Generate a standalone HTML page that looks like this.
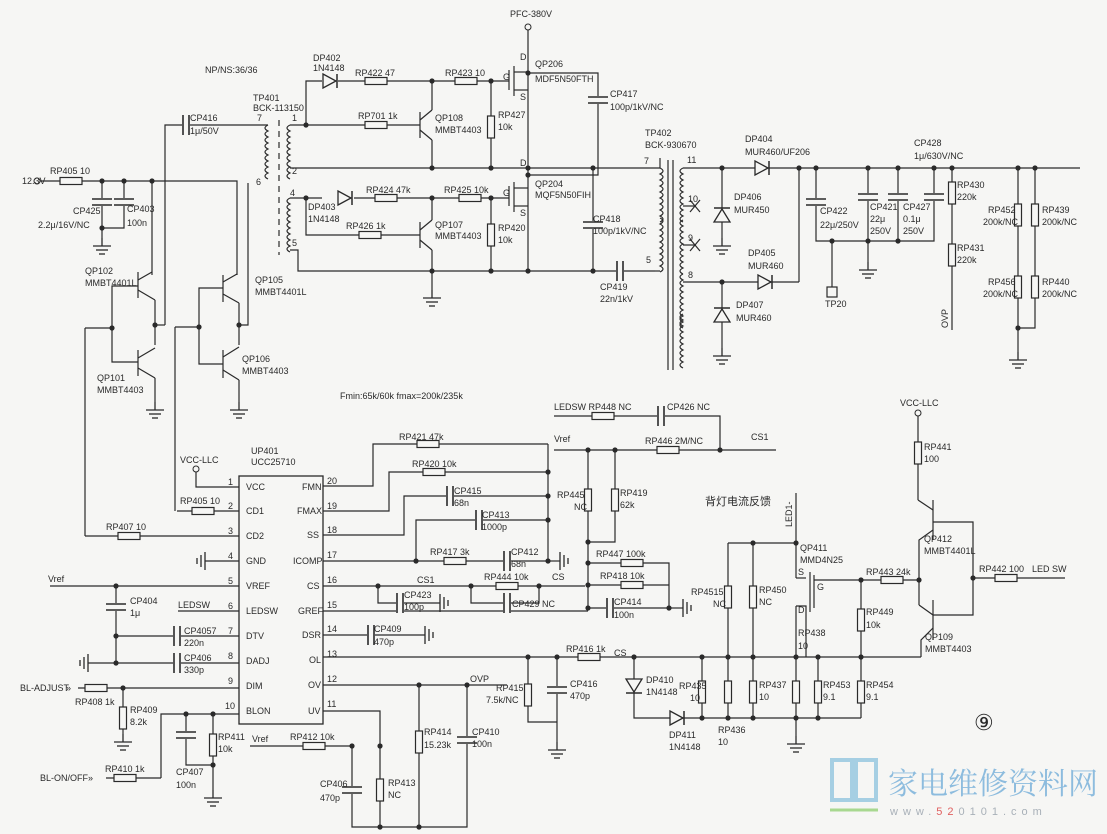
<!DOCTYPE html>
<html><head><meta charset="utf-8"><style>
html,body{margin:0;padding:0;background:#f6f6f4;}
svg{display:block;}
text{font-family:"Liberation Sans","Noto Sans CJK SC",sans-serif;font-size:9px;fill:#2a2a2a;}
</style></head><body>
<svg width="1107" height="834" viewBox="0 0 1107 834" xmlns="http://www.w3.org/2000/svg">
<defs>
<g id="rh"><rect x="-11" y="-3.5" width="22" height="7" fill="#f6f6f4" stroke="#2a2a2a" stroke-width="1.2"/></g>
<g id="rv"><rect x="-3.5" y="-11" width="7" height="22" fill="#f6f6f4" stroke="#2a2a2a" stroke-width="1.2"/></g>
<g id="gnd" stroke="#2a2a2a" stroke-width="1.3"><line x1="0" y1="-8" x2="0" y2="0"/><line x1="-9" y1="0" x2="9" y2="0"/><line x1="-6" y1="4" x2="6" y2="4"/><line x1="-3" y1="8" x2="3" y2="8"/></g>
<g id="gndl" stroke="#2a2a2a" stroke-width="1.3"><line x1="0" y1="-9" x2="0" y2="9"/><line x1="-4" y1="-6" x2="-4" y2="6"/><line x1="-8" y1="-3" x2="-8" y2="3"/></g>
<g id="gndr" stroke="#2a2a2a" stroke-width="1.3"><line x1="0" y1="-9" x2="0" y2="9"/><line x1="4" y1="-6" x2="4" y2="6"/><line x1="8" y1="-3" x2="8" y2="3"/></g>
<g id="cv" stroke="#2a2a2a" stroke-width="1.6"><rect x="-10" y="-4" width="20" height="8" fill="#f6f6f4" stroke="none"/><line x1="-10" y1="-3" x2="10" y2="-3"/><line x1="-10" y1="3" x2="10" y2="3"/></g>
<g id="ch" stroke="#2a2a2a" stroke-width="1.6"><rect x="-4" y="-10" width="8" height="20" fill="#f6f6f4" stroke="none"/><line x1="-3" y1="-10" x2="-3" y2="10"/><line x1="3" y1="-10" x2="3" y2="10"/></g>
<g id="dot"><circle r="2.6" fill="#2a2a2a"/></g>
<g id="dr"><polygon points="-7,-7 -7,7 6,0" fill="#f6f6f4" stroke="#2a2a2a" stroke-width="1.3"/><line x1="7" y1="-7" x2="7" y2="7" stroke="#2a2a2a" stroke-width="1.5"/></g>
<g id="du"><polygon points="-8,7 8,7 0,-6" fill="#f6f6f4" stroke="#2a2a2a" stroke-width="1.3"/><line x1="-8" y1="-7" x2="8" y2="-7" stroke="#2a2a2a" stroke-width="1.5"/></g>
<g id="dd"><polygon points="-8,-7 8,-7 0,6" fill="#f6f6f4" stroke="#2a2a2a" stroke-width="1.3"/><line x1="-8" y1="7" x2="8" y2="7" stroke="#2a2a2a" stroke-width="1.5"/></g>
<g id="coil" fill="none" stroke="#2a2a2a" stroke-width="1.2"><path d="M0,0 q6,3 0,6 q6,3 0,6 q6,3 0,6 q6,3 0,6 q6,3 0,6 q6,3 0,6 q6,3 0,6 q6,3 0,6 q6,3 0,6"/></g>
<g id="coilL" fill="none" stroke="#2a2a2a" stroke-width="1.2"><path d="M0,0 q-6,3 0,6 q-6,3 0,6 q-6,3 0,6 q-6,3 0,6 q-6,3 0,6 q-6,3 0,6 q-6,3 0,6 q-6,3 0,6 q-6,3 0,6"/></g>
</defs>

<g stroke="#2a2a2a" stroke-width="1.2" fill="none">
<!-- ===== top left ===== -->
<polyline points="40,181 237,181 237,275"/>
<line x1="102" y1="181" x2="102" y2="198"/><line x1="124" y1="181" x2="124" y2="198"/>
<polyline points="102,206 102,228 124,228 124,206"/><line x1="102" y1="228" x2="102" y2="238"/>
<line x1="152" y1="181" x2="152" y2="275"/>
<polyline points="165,325 165,125 268,125"/>
<polyline points="155,325 165,325"/>
<polyline points="248,183 248,325 239,325"/>
<!-- QP102 -->
<line x1="138" y1="272" x2="138" y2="298"/><line x1="138" y1="280" x2="152" y2="272"/><line x1="138" y1="290" x2="155" y2="300"/><line x1="155" y1="300" x2="155" y2="345"/>
<polyline points="138,286 112,286 112,362 138,362"/>
<line x1="112" y1="328" x2="85" y2="328"/><line x1="85" y1="328" x2="85" y2="536"/>
<!-- QP101 -->
<line x1="138" y1="350" x2="138" y2="376"/><line x1="138" y1="358" x2="155" y2="348"/><line x1="138" y1="368" x2="155" y2="378"/><line x1="155" y1="378" x2="155" y2="402"/>
<!-- QP105 -->
<line x1="223" y1="275" x2="223" y2="302"/><line x1="223" y1="282" x2="237" y2="274"/><line x1="223" y1="294" x2="239" y2="303"/><line x1="239" y1="303" x2="239" y2="345"/>
<polyline points="223,288 199,288 199,364 223,364"/>
<line x1="199" y1="327" x2="175" y2="327"/><line x1="175" y1="327" x2="175" y2="511"/>
<!-- QP106 -->
<line x1="223" y1="350" x2="223" y2="378"/><line x1="223" y1="357" x2="239" y2="347"/><line x1="223" y1="370" x2="239" y2="380"/><line x1="239" y1="380" x2="239" y2="402"/>
<!-- TP401 -->
<line x1="279" y1="120" x2="279" y2="255" stroke-dasharray="6,5"/>
<!-- upper driver -->
<polyline points="290,125 306,125 306,81 322,81"/>
<line x1="338" y1="81" x2="509" y2="81"/>
<line x1="306" y1="125" x2="420" y2="125"/>
<line x1="420" y1="112" x2="420" y2="138"/><line x1="420" y1="120" x2="432" y2="110"/><line x1="432" y1="110" x2="432" y2="81"/><line x1="420" y1="130" x2="432" y2="140"/><line x1="432" y1="140" x2="432" y2="168"/>
<line x1="491" y1="81" x2="491" y2="168"/>
<polyline points="290,168 660,168"/>
<polyline points="528,30 528,73 598,73 598,175 528,175"/>
<line x1="528" y1="73" x2="528" y2="168"/>
<line x1="509" y1="70" x2="509" y2="90"/><line x1="514" y1="66" x2="514" y2="96"/>
<line x1="514" y1="72" x2="528" y2="72"/><line x1="514" y1="90" x2="528" y2="90"/>
<!-- lower driver -->
<polyline points="290,198 322,198"/><line x1="354" y1="198" x2="509" y2="198"/>
<polyline points="306,198 306,235 420,235"/>
<line x1="420" y1="222" x2="420" y2="248"/><line x1="420" y1="230" x2="432" y2="220"/><line x1="432" y1="220" x2="432" y2="198"/><line x1="420" y1="240" x2="432" y2="250"/><line x1="432" y1="250" x2="432" y2="290"/>
<line x1="491" y1="198" x2="491" y2="271"/>
<polyline points="290,250 298,250 298,271 655,271"/>
<line x1="528" y1="168" x2="528" y2="271"/>
<line x1="509" y1="186" x2="509" y2="206"/><line x1="514" y1="182" x2="514" y2="212"/>
<line x1="514" y1="188" x2="528" y2="188"/><line x1="514" y1="206" x2="528" y2="206"/>
<line x1="593" y1="168" x2="593" y2="271"/>
<polyline points="655,271 660,271"/>
<polyline points="660,158 660,168"/>
<!-- TP402 -->
<line x1="668" y1="160" x2="668" y2="370"/><line x1="673" y1="160" x2="673" y2="370"/>
<polyline points="683,168 1080,168"/>
<line x1="722" y1="168" x2="722" y2="238"/>
<line x1="799" y1="168" x2="799" y2="282"/>
<polyline points="683,282 799,282"/>
<line x1="722" y1="282" x2="722" y2="348"/>
<line x1="683" y1="206" x2="696" y2="206"/><line x1="690" y1="200" x2="700" y2="212"/><line x1="690" y1="212" x2="700" y2="200"/>
<line x1="683" y1="245" x2="696" y2="245"/><line x1="690" y1="239" x2="700" y2="251"/><line x1="690" y1="251" x2="700" y2="239"/>
<polyline points="816,168 816,241 934,241 934,168"/>
<line x1="868" y1="168" x2="868" y2="262"/><line x1="898" y1="168" x2="898" y2="241"/>
<line x1="832" y1="241" x2="832" y2="287"/>
<line x1="952" y1="168" x2="952" y2="330"/>
<polyline points="1018,168 1018,328 1035,328 1035,168"/>
<line x1="1018" y1="328" x2="1018" y2="352"/>

<!-- ===== IC ===== -->
<rect x="239" y="476" width="84" height="248" stroke-width="1.3"/>
<polyline points="196,472 196,487 239,487"/>
<polyline points="177,511 239,511"/>
<polyline points="85,536 239,536"/>
<line x1="205" y1="561" x2="239" y2="561"/>
<line x1="50" y1="586" x2="239" y2="586"/>
<line x1="116" y1="586" x2="116" y2="663"/>
<line x1="178" y1="611" x2="239" y2="611"/>
<line x1="116" y1="636" x2="239" y2="636"/>
<line x1="88" y1="663" x2="239" y2="663"/>
<line x1="78" y1="688" x2="239" y2="688"/>
<line x1="123" y1="688" x2="123" y2="734"/>
<polyline points="161,778 161,714 239,714"/>
<line x1="106" y1="778" x2="161" y2="778"/>
<polyline points="186,714 186,765 213,765"/>
<line x1="213" y1="714" x2="213" y2="790"/>
<!-- right pins -->
<polyline points="323,486 373,486 373,444 548,444"/>
<polyline points="323,511 389,511 389,472 548,472"/>
<polyline points="323,535 404,535 404,496 548,496"/>
<polyline points="323,561 548,561"/><polyline points="416,561 416,520 548,520"/>
<line x1="548" y1="444" x2="548" y2="561"/>
<line x1="548" y1="561" x2="560" y2="561"/>
<line x1="323" y1="586" x2="585" y2="586"/>
<polyline points="378,586 378,603 440,603"/>
<polyline points="471,586 471,603 539,603 539,586"/>
<line x1="323" y1="611" x2="588" y2="611"/>
<line x1="323" y1="635" x2="425" y2="635"/>
<line x1="323" y1="657" x2="921" y2="657"/>
<line x1="323" y1="685" x2="507" y2="685"/>
<polyline points="528,657 528,722 557,722"/>
<line x1="557" y1="657" x2="557" y2="742"/>
<polyline points="323,711 380,711 380,827 352,827 352,746 250,746"/>
<line x1="380" y1="746" x2="380" y2="746"/>
<polyline points="380,827 467,827 467,685"/>
<line x1="419" y1="685" x2="419" y2="827"/>
<!-- Vref network -->
<polyline points="554,416 720,416 720,450"/>
<line x1="554" y1="450" x2="776" y2="450"/>
<polyline points="588,450 588,608 669,608 669,563 588,563"/>
<polyline points="588,585 669,585"/>
<polyline points="615,450 615,542 588,542"/>
<line x1="669" y1="608" x2="683" y2="608"/>
<!-- LED section -->
<line x1="796" y1="493" x2="796" y2="578"/>
<polyline points="728,543 796,543"/>
<line x1="728" y1="543" x2="728" y2="718"/>
<line x1="753" y1="543" x2="753" y2="718"/>
<polyline points="796,578 806,578"/><polyline points="796,606 806,606 806,657"/>
<line x1="796" y1="606" x2="796" y2="736"/>
<line x1="810" y1="572" x2="810" y2="612"/><line x1="814" y1="575" x2="814" y2="608"/>
<polyline points="814,580 919,580"/>
<line x1="861" y1="580" x2="861" y2="718"/>
<polyline points="634,657 634,718 861,718"/>
<line x1="702" y1="657" x2="702" y2="718"/>
<line x1="818" y1="657" x2="818" y2="718"/>
<line x1="918" y1="416" x2="918" y2="500"/>
<polyline points="918,500 933,510"/><line x1="933" y1="500" x2="933" y2="540"/>
<polyline points="933,530 919,540 919,580"/>
<polyline points="933,522 973,522 973,615 933,615"/>
<line x1="919" y1="580" x2="919" y2="605"/>
<polyline points="919,605 933,615"/><line x1="933" y1="600" x2="933" y2="640"/>
<polyline points="933,628 921,640 921,657"/>
<line x1="973" y1="578" x2="1065" y2="578"/>
</g>

<!-- components -->
<g>
<use href="#rh" x="71" y="181"/>
<use href="#cv" x="102" y="202"/><use href="#cv" x="124" y="202"/>
<use href="#gnd" x="102" y="246"/>
<use href="#ch" x="186" y="125"/>
<use href="#gnd" x="155" y="410"/><use href="#gnd" x="239" y="410"/>
<use href="#coilL" x="268" y="125" transform="translate(0,0)"/>
<use href="#coilL" x="290" y="125"/>
<use href="#coilL" x="290" y="198"/>
<use href="#dr" x="330" y="81"/><use href="#rh" x="376" y="81"/><use href="#rh" x="466" y="81"/>
<use href="#rh" x="376" y="125"/><use href="#rv" x="491" y="127"/>
<use href="#cv" x="598" y="100"/>
<use href="#dr" x="345" y="198"/><use href="#rh" x="386" y="198"/><use href="#rh" x="470" y="198"/>
<use href="#rh" x="370" y="235"/><use href="#rv" x="491" y="235"/>
<use href="#cv" x="593" y="225"/><use href="#ch" x="620" y="271"/>
<use href="#gnd" x="432" y="298"/>
<use href="#coil" x="660" y="168"/><use href="#coil" x="660" y="218"/>
<use href="#coilL" x="683" y="168"/><use href="#coilL" x="683" y="220"/><use href="#coilL" x="683" y="274"/><use href="#coilL" x="683" y="314"/>
<use href="#dr" x="762" y="168"/><use href="#du" x="722" y="215"/><use href="#gnd" x="722" y="246"/>
<use href="#dr" x="765" y="282"/><use href="#du" x="722" y="315"/><use href="#gnd" x="722" y="356"/>
<use href="#cv" x="816" y="202"/><use href="#cv" x="868" y="197"/><use href="#cv" x="898" y="197"/><use href="#cv" x="934" y="197"/>
<rect x="827" y="287" width="10" height="10" fill="#f6f6f4" stroke="#2a2a2a" stroke-width="1.2"/>
<use href="#gnd" x="868" y="270"/>
<use href="#rv" x="952" y="193"/><use href="#rv" x="952" y="255"/>
<use href="#rv" x="1018" y="215"/><use href="#rv" x="1035" y="215"/><use href="#rv" x="1018" y="287"/><use href="#rv" x="1035" y="287"/>
<use href="#gnd" x="1018" y="360"/>
<!-- IC area -->
<circle cx="196" cy="469" r="3" fill="#f6f6f4" stroke="#2a2a2a"/>
<circle cx="918" cy="413" r="3" fill="#f6f6f4" stroke="#2a2a2a"/>
<circle cx="528" cy="27" r="3" fill="#f6f6f4" stroke="#2a2a2a"/>
<circle cx="37" cy="181" r="3" fill="#f6f6f4" stroke="#2a2a2a"/>
<use href="#rh" x="203" y="511"/><use href="#rh" x="129" y="536"/>
<use href="#gndl" x="205" y="561"/>
<use href="#cv" x="116" y="607"/>
<use href="#ch" x="177" y="636"/><use href="#ch" x="177" y="663"/>
<use href="#gndl" x="88" y="663"/>
<use href="#rh" x="96" y="688"/><use href="#rv" x="123" y="718"/><use href="#gnd" x="123" y="742"/>
<use href="#cv" x="186" y="735"/><use href="#rv" x="213" y="745"/><use href="#gnd" x="213" y="798"/>
<use href="#rh" x="125" y="778"/>
<use href="#rh" x="428" y="444"/><use href="#rh" x="434" y="472"/>
<use href="#ch" x="450" y="496"/><use href="#ch" x="479" y="520"/>
<use href="#rh" x="455" y="561"/><use href="#ch" x="507" y="561"/>
<use href="#gndr" x="560" y="561"/>
<use href="#ch" x="400" y="603"/><use href="#gndr" x="440" y="603"/>
<use href="#rh" x="507" y="586"/><use href="#ch" x="507" y="603"/>
<use href="#ch" x="371" y="635"/><use href="#gndr" x="425" y="635"/>
<use href="#rv" x="528" y="695"/><use href="#cv" x="557" y="690"/><use href="#gnd" x="557" y="750"/>
<use href="#rh" x="314" y="746"/><use href="#cv" x="352" y="790"/><use href="#rv" x="380" y="790"/>
<use href="#rv" x="419" y="742"/><use href="#cv" x="467" y="740"/>
<use href="#rh" x="603" y="416"/><use href="#ch" x="661" y="416"/>
<use href="#rh" x="668" y="450"/>
<use href="#rv" x="588" y="500"/><use href="#rv" x="615" y="500"/>
<use href="#rh" x="632" y="563"/><use href="#rh" x="632" y="585"/><use href="#ch" x="610" y="608"/>
<use href="#gndr" x="683" y="608"/>
<use href="#rv" x="728" y="597"/><use href="#rv" x="753" y="597"/>
<use href="#rh" x="589" y="657"/>
<use href="#dd" x="634" y="686"/><use href="#dr" x="677" y="718"/>
<use href="#rv" x="702" y="692"/><use href="#rv" x="728" y="692"/><use href="#rv" x="753" y="692"/><use href="#rv" x="796" y="692"/><use href="#rv" x="818" y="692"/><use href="#rv" x="861" y="692"/>
<use href="#gnd" x="796" y="744"/>
<use href="#rv" x="861" y="620"/>
<use href="#rh" x="892" y="580"/><use href="#rv" x="918" y="453"/><use href="#rh" x="1006" y="578"/>
<text x="238" y="737" style="font-size:1px">.</text>
</g>
<g>
<use href="#dot" x="102" y="181"/><use href="#dot" x="124" y="181"/><use href="#dot" x="152" y="181"/><use href="#dot" x="102" y="228"/>
<use href="#dot" x="155" y="325"/><use href="#dot" x="239" y="325"/><use href="#dot" x="112" y="328"/><use href="#dot" x="199" y="327"/>
<use href="#dot" x="306" y="125"/><use href="#dot" x="432" y="81"/><use href="#dot" x="491" y="81"/><use href="#dot" x="528" y="73"/><use href="#dot" x="528" y="175"/>
<use href="#dot" x="432" y="168"/><use href="#dot" x="491" y="168"/><use href="#dot" x="528" y="168"/><use href="#dot" x="593" y="168"/>
<use href="#dot" x="306" y="198"/><use href="#dot" x="432" y="198"/><use href="#dot" x="491" y="198"/>
<use href="#dot" x="432" y="271"/><use href="#dot" x="491" y="271"/><use href="#dot" x="528" y="271"/><use href="#dot" x="593" y="271"/>
<use href="#dot" x="722" y="168"/><use href="#dot" x="799" y="168"/><use href="#dot" x="816" y="168"/><use href="#dot" x="868" y="168"/><use href="#dot" x="898" y="168"/><use href="#dot" x="934" y="168"/><use href="#dot" x="952" y="168"/><use href="#dot" x="1018" y="168"/><use href="#dot" x="1035" y="168"/>
<use href="#dot" x="722" y="282"/><use href="#dot" x="832" y="241"/><use href="#dot" x="868" y="241"/><use href="#dot" x="898" y="241"/><use href="#dot" x="1018" y="328"/>
<use href="#dot" x="116" y="586"/><use href="#dot" x="116" y="636"/><use href="#dot" x="116" y="663"/><use href="#dot" x="123" y="688"/>
<use href="#dot" x="186" y="714"/><use href="#dot" x="213" y="714"/><use href="#dot" x="213" y="765"/>
<use href="#dot" x="548" y="472"/><use href="#dot" x="548" y="496"/><use href="#dot" x="548" y="520"/><use href="#dot" x="548" y="561"/><use href="#dot" x="416" y="561"/>
<use href="#dot" x="378" y="586"/><use href="#dot" x="471" y="586"/><use href="#dot" x="539" y="586"/>
<use href="#dot" x="528" y="657"/><use href="#dot" x="557" y="657"/><use href="#dot" x="419" y="685"/><use href="#dot" x="467" y="685"/>
<use href="#dot" x="352" y="746"/><use href="#dot" x="380" y="746"/><use href="#dot" x="380" y="827"/><use href="#dot" x="419" y="827"/>
<use href="#dot" x="588" y="450"/><use href="#dot" x="615" y="450"/><use href="#dot" x="720" y="450"/><use href="#dot" x="588" y="542"/><use href="#dot" x="588" y="563"/><use href="#dot" x="588" y="585"/><use href="#dot" x="588" y="608"/><use href="#dot" x="669" y="608"/>
<use href="#dot" x="753" y="543"/><use href="#dot" x="796" y="543"/>
<use href="#dot" x="634" y="657"/><use href="#dot" x="702" y="657"/><use href="#dot" x="728" y="657"/><use href="#dot" x="753" y="657"/><use href="#dot" x="796" y="657"/><use href="#dot" x="818" y="657"/><use href="#dot" x="861" y="657"/>
<use href="#dot" x="702" y="718"/><use href="#dot" x="728" y="718"/><use href="#dot" x="753" y="718"/><use href="#dot" x="796" y="718"/><use href="#dot" x="818" y="718"/>
<use href="#dot" x="861" y="580"/><use href="#dot" x="919" y="580"/><use href="#dot" x="973" y="578"/>
</g>

<!-- labels -->
<g>
<text x="510" y="17">PFC-380V</text>
<text x="205" y="73">NP/NS:36/36</text>
<text x="253" y="101">TP401</text><text x="253" y="111">BCK-113150</text>
<text x="313" y="61">DP402</text><text x="313" y="71">1N4148</text>
<text x="355" y="76">RP422  47</text><text x="445" y="76">RP423  10</text>
<text x="535" y="67">QP206</text><text x="535" y="82">MDF5N50FTH</text>
<text x="520" y="60">D</text><text x="503" y="80">G</text><text x="520" y="100">S</text>
<text x="610" y="97">CP417</text><text x="610" y="110">100p/1kV/NC</text>
<text x="358" y="119">RP701  1k</text>
<text x="435" y="121">QP108</text><text x="435" y="133">MMBT4403</text>
<text x="498" y="118">RP427</text><text x="498" y="130">10k</text>
<text x="190" y="121">CP416</text><text x="190" y="134">1μ/50V</text>
<text x="257" y="121">7</text><text x="256" y="185">6</text>
<text x="292" y="121">1</text><text x="292" y="174">2</text><text x="290" y="196">4</text><text x="292" y="246">5</text>
<text x="50" y="174">RP405  10</text><text x="22" y="184">12.3V</text>
<text x="73" y="214">CP425</text><text x="38" y="228">2.2μ/16V/NC</text>
<text x="127" y="212">CP403</text><text x="127" y="226">100n</text>
<text x="85" y="274">QP102</text><text x="85" y="286">MMBT4401L</text>
<text x="97" y="381">QP101</text><text x="97" y="393">MMBT4403</text>
<text x="255" y="283">QP105</text><text x="255" y="295">MMBT4401L</text>
<text x="242" y="362">QP106</text><text x="242" y="374">MMBT4403</text>
<text x="308" y="210">DP403</text><text x="308" y="222">1N4148</text>
<text x="366" y="193">RP424  47k</text><text x="444" y="193">RP425  10k</text>
<text x="346" y="229">RP426  1k</text>
<text x="435" y="228">QP107</text><text x="435" y="239">MMBT4403</text>
<text x="498" y="231">RP420</text><text x="498" y="243">10k</text>
<text x="535" y="187">QP204</text><text x="535" y="198">MQF5N50FIH</text>
<text x="520" y="166">D</text><text x="503" y="196">G</text><text x="520" y="216">S</text>
<text x="593" y="222">CP418</text><text x="593" y="234">100p/1kV/NC</text>
<text x="600" y="290">CP419</text><text x="600" y="302">22n/1kV</text>
<text x="645" y="136">TP402</text><text x="645" y="148">BCK-930670</text>
<text x="644" y="164">7</text><text x="687" y="163">11</text><text x="646" y="263">5</text>
<text x="688" y="202">10</text><text x="688" y="241">9</text><text x="688" y="278">8</text>
<text x="745" y="142">DP404</text><text x="745" y="155">MUR460/UF206</text>
<text x="734" y="200">DP406</text><text x="734" y="213">MUR450</text>
<text x="748" y="256">DP405</text><text x="748" y="269">MUR460</text>
<text x="736" y="308">DP407</text><text x="736" y="321">MUR460</text>
<text x="914" y="146">CP428</text><text x="914" y="159">1μ/630V/NC</text>
<text x="820" y="214">CP422</text><text x="820" y="228">22μ/250V</text>
<text x="870" y="210">CP421</text><text x="870" y="222">22μ</text><text x="870" y="234">250V</text>
<text x="903" y="210">CP427</text><text x="903" y="222">0.1μ</text><text x="903" y="234">250V</text>
<text x="957" y="188">RP430</text><text x="957" y="200">220k</text>
<text x="957" y="251">RP431</text><text x="957" y="263">220k</text>
<text x="825" y="307">TP20</text>
<text transform="translate(948,328) rotate(-90)">OVP</text>
<text x="988" y="213">RP452</text><text x="983" y="225">200k/NC</text>
<text x="1042" y="213">RP439</text><text x="1042" y="225">200k/NC</text>
<text x="988" y="285">RP456</text><text x="983" y="297">200k/NC</text>
<text x="1042" y="285">RP440</text><text x="1042" y="297">200k/NC</text>
<text x="340" y="399">Fmin:65k/60k  fmax=200k/235k</text>
<!-- IC -->
<text x="251" y="454">UP401</text><text x="251" y="465">UCC25710</text>
<text x="180" y="463">VCC-LLC</text>
<text x="180" y="504">RP405  10</text><text x="106" y="530">RP407  10</text>
<text x="228" y="485">1</text><text x="228" y="509">2</text><text x="228" y="534">3</text><text x="228" y="559">4</text><text x="228" y="584">5</text><text x="228" y="609">6</text><text x="228" y="634">7</text><text x="228" y="659">8</text><text x="228" y="684">9</text><text x="225" y="709">10</text>
<text x="246" y="490">VCC</text><text x="246" y="514">CD1</text><text x="246" y="539">CD2</text><text x="246" y="564">GND</text><text x="246" y="589">VREF</text><text x="246" y="614">LEDSW</text><text x="246" y="639">DTV</text><text x="246" y="664">DADJ</text><text x="246" y="689">DIM</text><text x="246" y="714">BLON</text>
<text x="302" y="490">FMN</text><text x="297" y="514">FMAX</text><text x="307" y="538">SS</text><text x="293" y="564">ICOMP</text><text x="307" y="589">CS</text><text x="298" y="614">GREF</text><text x="302" y="638">DSR</text><text x="309" y="663">OL</text><text x="308" y="688">OV</text><text x="308" y="714">UV</text>
<text x="327" y="484">20</text><text x="327" y="509">19</text><text x="327" y="533">18</text><text x="327" y="558">17</text><text x="327" y="583">16</text><text x="327" y="608">15</text><text x="327" y="632">14</text><text x="327" y="657">13</text><text x="327" y="682">12</text><text x="327" y="707">11</text>
<text x="48" y="582">Vref</text>
<text x="130" y="604">CP404</text><text x="130" y="616">1μ</text>
<text x="178" y="608">LEDSW</text>
<text x="184" y="634">CP4057</text><text x="184" y="646">220n</text>
<text x="184" y="661">CP406</text><text x="184" y="673">330p</text>
<text x="20" y="691">BL-ADJUST</text><text x="66" y="691">»</text>
<text x="75" y="705">RP408  1k</text>
<text x="130" y="713">RP409</text><text x="130" y="725">8.2k</text>
<text x="218" y="740">RP411</text><text x="218" y="752">10k</text>
<text x="176" y="775">CP407</text><text x="176" y="788">100n</text>
<text x="105" y="772">RP410  1k</text>
<text x="40" y="781">BL-ON/OFF</text><text x="88" y="781">»</text>
<text x="252" y="742">Vref</text><text x="290" y="740">RP412  10k</text>
<text x="320" y="787">CP406</text><text x="320" y="801">470p</text>
<text x="388" y="786">RP413</text><text x="388" y="798">NC</text>
<text x="424" y="735">RP414</text><text x="424" y="748">15.23k</text>
<text x="472" y="735">CP410</text><text x="472" y="747">100n</text>
<text x="470" y="682">OVP</text>
<text x="496" y="691">RP415</text><text x="486" y="703">7.5k/NC</text>
<text x="570" y="687">CP416</text><text x="570" y="699">470p</text>
<text x="399" y="440">RP421  47k</text><text x="412" y="467">RP420  10k</text>
<text x="454" y="494">CP415</text><text x="454" y="506">68n</text>
<text x="482" y="518">CP413</text><text x="482" y="530">1000p</text>
<text x="430" y="555">RP417  3k</text>
<text x="511" y="555">CP412</text><text x="511" y="567">68n</text>
<text x="552" y="580">CS</text>
<text x="417" y="583">CS1</text>
<text x="404" y="598">CP423</text><text x="404" y="610">100p</text>
<text x="484" y="580">RP444  10k</text><text x="512" y="607">CP429  NC</text>
<text x="374" y="632">CP409</text><text x="374" y="645">470p</text>
<text x="554" y="410">LEDSW  RP448  NC</text><text x="667" y="410">CP426  NC</text>
<text x="554" y="442">Vref</text><text x="645" y="444">RP446  2M/NC</text><text x="751" y="440">CS1</text>
<text x="557" y="498">RP445</text><text x="574" y="510">NC</text>
<text x="620" y="496">RP419</text><text x="620" y="508">62k</text>
<text x="596" y="557">RP447  100k</text><text x="600" y="579">RP418  10k</text>
<text x="614" y="605">CP414</text><text x="614" y="618">100n</text>
<text x="566" y="652">RP416  1k</text><text x="614" y="656">CS</text>
<text x="705" y="505" style="font-size:11px">背灯电流反馈</text>
<text transform="translate(792,527) rotate(-90)">LED1-</text>
<text x="800" y="551">QP411</text><text x="800" y="563">MMD4N25</text>
<text x="798" y="575">S</text><text x="817" y="590">G</text><text x="798" y="613">D</text>
<text x="691" y="595">RP4515</text><text x="713" y="607">NC</text>
<text x="759" y="593">RP450</text><text x="759" y="605">NC</text>
<text x="798" y="636">RP438</text><text x="798" y="649">10</text>
<text x="866" y="575">RP443  24k</text>
<text x="866" y="615">RP449</text><text x="866" y="628">10k</text>
<text x="646" y="683">DP410</text><text x="646" y="695">1N4148</text>
<text x="669" y="738">DP411</text><text x="669" y="750">1N4148</text>
<text x="679" y="689">RP435</text><text x="690" y="701">10</text>
<text x="718" y="733">RP436</text><text x="718" y="745">10</text>
<text x="759" y="688">RP437</text><text x="759" y="700">10</text>
<text x="823" y="688">RP453</text><text x="823" y="700">9.1</text>
<text x="866" y="688">RP454</text><text x="866" y="700">9.1</text>
<text x="900" y="406">VCC-LLC</text>
<text x="924" y="450">RP441</text><text x="924" y="462">100</text>
<text x="924" y="542">QP412</text><text x="924" y="554">MMBT4401L</text>
<text x="925" y="640">QP109</text><text x="925" y="652">MMBT4403</text>
<text x="979" y="572">RP442  100</text><text x="1032" y="572">LED SW</text>
<text x="974" y="730" style="font-size:22px;font-family:'Liberation Serif',serif">⑨</text>
</g>

<!-- logo -->
<g>
<path d="M832,760 h20 v40 h-20 z M856,760 h20 v40 h-20 z" fill="none" stroke="#a6cfe3" stroke-width="4"/>
<line x1="830" y1="810" x2="878" y2="810" stroke="#a8d890" stroke-width="3"/>
<text x="888" y="794" style="font-size:30px;fill:#8dbcde;font-family:'Noto Serif CJK SC','Noto Sans CJK SC',sans-serif">家电维修资料网</text>
<text x="890" y="815" style="font-size:11px;fill:#a8b0b8;letter-spacing:5px">www.<tspan style="fill:#e06060">52</tspan>0101.com</text>
</g>
</svg>
</body></html>
